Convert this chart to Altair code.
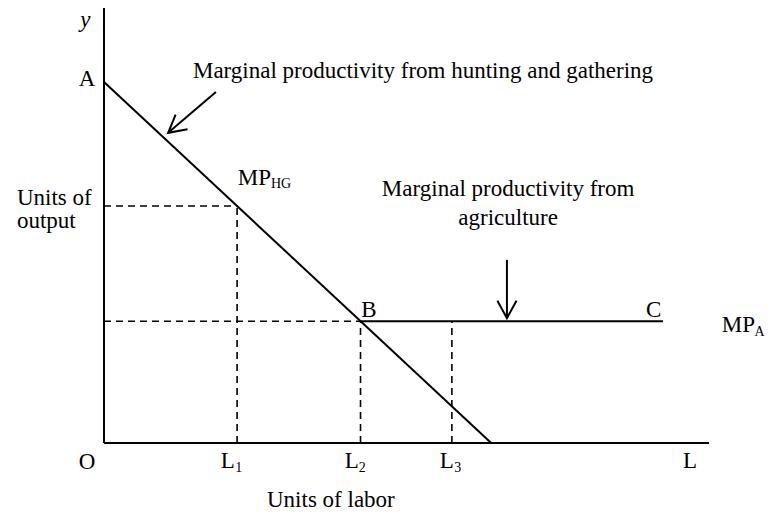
import altair as alt
import pandas as pd

# ---- data (labor on x, output on y; arbitrary units) ----
mp_hg_x = [0, 64]          # marginal productivity from hunting & gathering
mp_hg_y = [83, 0]
mp_a_x = [42.4, 92.4]      # marginal productivity from agriculture (B to C)
mp_a_y = [28, 28]
axis_max = [100, 100]

l_vals = [22, 42.4, 57.5]          # L1, L2, L3
l_out = [54.5, 28, 28]             # output level at each L

arrow_start_x = [18.5, 66.6]
arrow_start_y = [80.7, 42.1]
arrow_tip_x = [10.6, 66.6]
arrow_tip_y = [71.3, 28.7]
arrow_angle = [51, 0]

# text labels
main_text = ["A", "O", "Marginal productivity from", "agriculture", "Units of labor"]
main_x = [-2.8, -2.8, 66.8, 66.8, 37.5]
main_y = [82.1, -6.0, 56.8, 50.1, -14.7]

left_text = ["Marginal productivity from hunting and gathering", "Units of", "output",
             "MP", "B", "C", "MP", "L", "L", "L", "L"]
left_x = [14.7, -14.4, -14.4, 22.1, 42.5, 89.6, 102.1, 19.3, 39.8, 55.5, 95.7]
left_y = [83.9, 54.7, 49.4, 59.3, 29.0, 29.0, 25.5, -5.7, -5.7, -5.7, -5.7]

sub_text = ["HG", "A", "1", "2", "3"]
sub_x = [27.6, 107.5, 21.7, 42.1, 57.9]
sub_y = [58.6, 24.6, -6.7, -6.7, -6.7]

# ---- tables ----
solid = pd.DataFrame({
    "x": [0, 0, mp_hg_x[0], mp_a_x[0]] + arrow_start_x,
    "y": [0, 0, mp_hg_y[0], mp_a_y[0]] + arrow_start_y,
    "x2": [0, axis_max[0], mp_hg_x[1], mp_a_x[1]] + arrow_tip_x,
    "y2": [axis_max[1], 0, mp_hg_y[1], mp_a_y[1]] + arrow_tip_y,
})

dashed = pd.DataFrame({
    "x": [0, l_vals[0], 0, l_vals[1], l_vals[2]],
    "y": [l_out[0], 0, l_out[1], 0, 0],
    "x2": [l_vals[0], l_vals[0], l_vals[1], l_vals[1], l_vals[2]],
    "y2": [l_out[0], l_out[0], l_out[1], l_out[1], l_out[2]],
})

heads = pd.DataFrame({"x": arrow_tip_x, "y": arrow_tip_y, "angle": arrow_angle})
main_df = pd.DataFrame({"t": main_text, "x": main_x, "y": main_y})
left_df = pd.DataFrame({"t": left_text, "x": left_x, "y": left_y})
sub_df = pd.DataFrame({"t": sub_text, "x": sub_x, "y": sub_y})
ylab = pd.DataFrame({"t": ["y"], "x": [-3.1], "y": [95.6]})

X = alt.X("x:Q", scale=alt.Scale(domain=[0, 100], nice=False, zero=False), axis=None)
Y = alt.Y("y:Q", scale=alt.Scale(domain=[0, 100], nice=False, zero=False), axis=None)

FONT = "Liberation Serif"
FS = 23

solid_l = alt.Chart(solid).mark_rule(color="black", strokeWidth=2).encode(
    x=X, y=Y, x2="x2:Q", y2="y2:Q")
dashed_l = alt.Chart(dashed).mark_rule(color="black", strokeWidth=1.6, strokeDash=[7, 5]).encode(
    x=X, y=Y, x2="x2:Q", y2="y2:Q")
head_l = alt.Chart(heads).mark_point(
    shape="M-0.55,-1L0,0L0.55,-1", filled=False, stroke="black", strokeWidth=2,
    size=1200, opacity=1).encode(x=X, y=Y, angle=alt.Angle("angle:Q", scale=None))

txt_c = alt.Chart(main_df).mark_text(font=FONT, fontSize=FS, align="center",
                                     baseline="alphabetic", color="black").encode(x=X, y=Y, text="t:N")
txt_l = alt.Chart(left_df).mark_text(font=FONT, fontSize=FS, align="left",
                                     baseline="alphabetic", color="black").encode(x=X, y=Y, text="t:N")
txt_s = alt.Chart(sub_df).mark_text(font=FONT, fontSize=14, align="left",
                                    baseline="alphabetic", color="black").encode(x=X, y=Y, text="t:N")
txt_y = alt.Chart(ylab).mark_text(font=FONT, fontSize=FS, fontStyle="italic", align="center",
                                  baseline="alphabetic", color="black").encode(x=X, y=Y, text="t:N")

chart = alt.layer(solid_l, dashed_l, head_l, txt_c, txt_l, txt_s, txt_y).properties(
    width=605, height=435,
    padding={"left": 96, "top": 0, "right": 56, "bottom": 69},
    autosize=alt.AutoSizeParams(type="none"),
    background="white",
).configure_view(stroke=None)

chart.save("out.html", embed_options={"renderer": "svg", "actions": False})
